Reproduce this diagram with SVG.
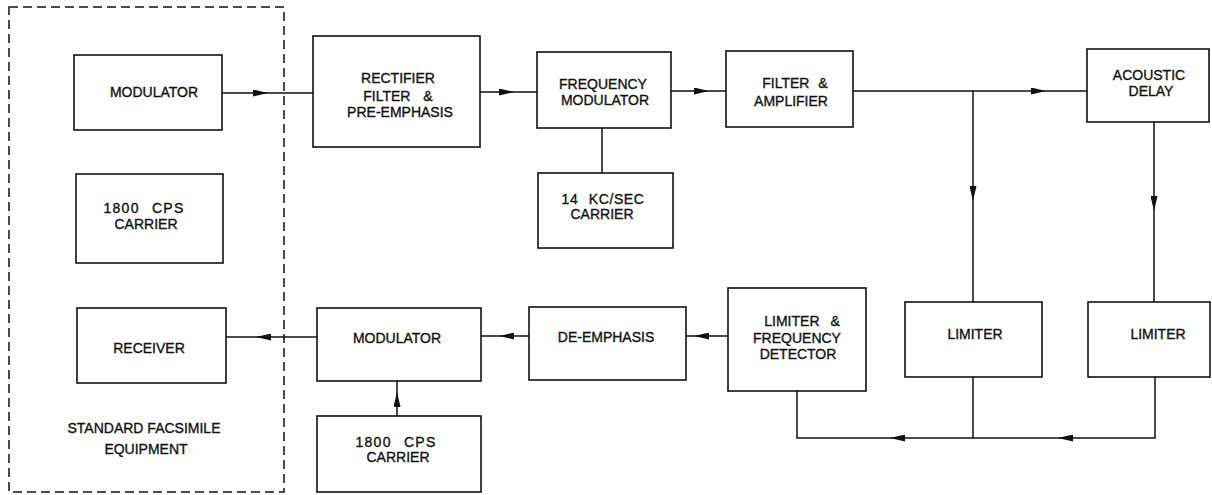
<svg xmlns="http://www.w3.org/2000/svg" width="1212" height="495" viewBox="0 0 1212 495">
<style>
.box{fill:#fff;stroke:#111;stroke-width:1.6}
.dash{fill:none;stroke:#111;stroke-width:1.5;stroke-dasharray:9 5}
.ln{fill:none;stroke:#111;stroke-width:1.5}
text{font-family:"Liberation Sans",Arial,sans-serif;font-size:14px;fill:#111;text-anchor:middle;stroke:#111;stroke-width:0.35}
.ws14{word-spacing:7px;letter-spacing:1.3px}
.ws11{word-spacing:6px;letter-spacing:0.6px}
.ws12{word-spacing:9px}
.ws6{word-spacing:5px}
.ws10{word-spacing:7px}
</style>
<defs>
<marker id="arr" viewBox="0 0 15 7" refX="15" refY="3.5" markerWidth="15" markerHeight="7" markerUnits="userSpaceOnUse" orient="auto">
<path d="M0,0 L15,3.5 L0,7 z" fill="#111"/>
</marker>
</defs>
<rect width="1212" height="495" fill="#fff"/>
<g id="facsimile-group">
<rect class="dash" x="9" y="7" width="275" height="485"/>
<text x="144" y="433">STANDARD FACSIMILE</text>
<text x="146" y="454">EQUIPMENT</text>
</g>
<g id="connectors">
<path class="ln" d="M222,93 H268" marker-end="url(#arr)"/>
<path class="ln" d="M268,93 H313"/>
<path class="ln" d="M480,92 H514" marker-end="url(#arr)"/>
<path class="ln" d="M514,92 H537"/>
<path class="ln" d="M602,128 V173"/>
<path class="ln" d="M671,91 H709" marker-end="url(#arr)"/>
<path class="ln" d="M709,91 H726"/>
<path class="ln" d="M853,91 H1046" marker-end="url(#arr)"/>
<path class="ln" d="M1046,91 H1087"/>
<path class="ln" d="M973,91 V201" marker-end="url(#arr)"/>
<path class="ln" d="M973,201 V302"/>
<path class="ln" d="M1154,122 V211" marker-end="url(#arr)"/>
<path class="ln" d="M1154,211 V302"/>
<path class="ln" d="M973,377 V438"/>
<path class="ln" d="M1155,377 V438 H1058" marker-end="url(#arr)"/>
<path class="ln" d="M1058,438 H890" marker-end="url(#arr)"/>
<path class="ln" d="M890,438 H797 V391"/>
<path class="ln" d="M728,336 H694" marker-end="url(#arr)"/>
<path class="ln" d="M694,336 H686"/>
<path class="ln" d="M529,336 H499" marker-end="url(#arr)"/>
<path class="ln" d="M499,336 H481"/>
<path class="ln" d="M317,337 H256" marker-end="url(#arr)"/>
<path class="ln" d="M256,337 H226"/>
<path class="ln" d="M397,416 V392" marker-end="url(#arr)"/>
<path class="ln" d="M397,392 V381"/>
</g>
<g id="modulator-tx">
<rect class="box" x="74" y="55" width="148" height="75"/>
<text x="154" y="97">MODULATOR</text>
</g>
<g id="carrier-1800-top">
<rect class="box" x="76" y="174" width="147" height="89"/>
<text class="ws14" x="144" y="213">1800 CPS</text>
<text x="146" y="229">CARRIER</text>
</g>
<g id="receiver">
<rect class="box" x="77" y="308" width="149" height="75"/>
<text x="149" y="353">RECEIVER</text>
</g>
<g id="rectifier">
<rect class="box" x="313" y="36" width="167" height="111"/>
<text x="398" y="83">RECTIFIER</text>
<text class="ws12" x="398" y="101">FILTER &amp;</text>
<text x="400" y="117">PRE-EMPHASIS</text>
</g>
<g id="freq-modulator">
<rect class="box" x="537" y="52" width="134" height="76"/>
<text x="603" y="89">FREQUENCY</text>
<text x="605" y="105">MODULATOR</text>
</g>
<g id="carrier-14kc">
<rect class="box" x="538" y="173" width="135" height="75"/>
<text class="ws11" x="603" y="204">14 KC/SEC</text>
<text x="602" y="219">CARRIER</text>
</g>
<g id="filter-amplifier">
<rect class="box" x="726" y="51" width="127" height="76"/>
<text class="ws6" x="795" y="88">FILTER &amp;</text>
<text x="791" y="106">AMPLIFIER</text>
</g>
<g id="acoustic-delay">
<rect class="box" x="1087" y="49" width="122" height="73"/>
<text x="1149" y="80">ACOUSTIC</text>
<text x="1151" y="96">DELAY</text>
</g>
<g id="limiter-1">
<rect class="box" x="905" y="302" width="137" height="75"/>
<text x="975" y="339">LIMITER</text>
</g>
<g id="limiter-2">
<rect class="box" x="1088" y="302" width="122" height="75"/>
<text x="1158" y="339">LIMITER</text>
</g>
<g id="limiter-freq-detector">
<rect class="box" x="728" y="288" width="138" height="103"/>
<text class="ws10" x="802" y="326">LIMITER &amp;</text>
<text x="797" y="343">FREQUENCY</text>
<text x="798" y="359">DETECTOR</text>
</g>
<g id="de-emphasis">
<rect class="box" x="529" y="307" width="157" height="73"/>
<text x="606" y="342">DE-EMPHASIS</text>
</g>
<g id="modulator-rx">
<rect class="box" x="317" y="308" width="164" height="73"/>
<text x="397" y="343">MODULATOR</text>
</g>
<g id="carrier-1800-bottom">
<rect class="box" x="317" y="416" width="164" height="76"/>
<text class="ws14" x="396" y="447">1800 CPS</text>
<text x="398" y="462">CARRIER</text>
</g>
</svg>
